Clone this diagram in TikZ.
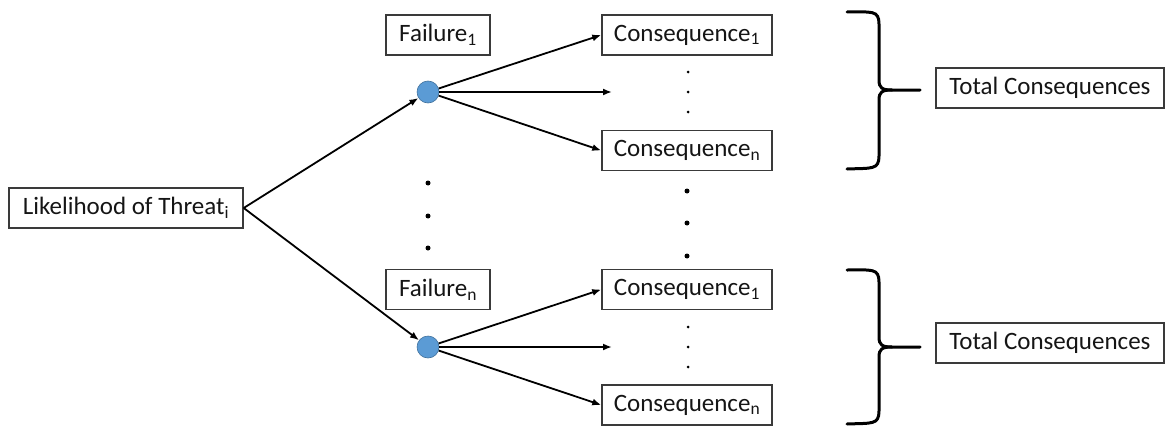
\documentclass[tikz,border=0pt]{standalone}
\usepackage{fontspec}
\setmainfont{Carlito}
\usetikzlibrary{arrows.meta}
\definecolor{boxgray}{HTML}{3A3A3A}
\definecolor{txt}{HTML}{151515}
\definecolor{dotblue}{HTML}{5B9BD5}
\definecolor{dotedge}{HTML}{41719C}
\begin{document}
\begin{tikzpicture}[x=1pt,y=-1pt,
 box/.style={draw=boxgray,line width=1.4pt,minimum height=40pt,inner sep=0pt,text=txt,font=\fontsize{25}{29}\selectfont},
 chance/.style={circle,fill=dotblue,draw=dotedge,line width=0.6pt,minimum size=22pt,inner sep=0pt},
 conn/.style={line width=1.8pt,-{Latex[length=9pt,width=7pt]}},
 bigdot/.style={circle,fill=black,minimum size=5pt,inner sep=0pt},
 smalldot/.style={circle,fill=black,minimum size=3pt,inner sep=0pt},
 brace/.style={line width=3pt,line cap=round}]
\useasboundingbox (0,0) rectangle (1166,428);
% boxes
\node[box,minimum width=234pt] (lik) at (126,208) {Likelihood of Threat\textsubscript{i}};
\node[box,minimum width=104pt] (f1) at (438,35) {Failure\textsubscript{1}};
\node[box,minimum width=104pt] (fn) at (438,289.5) {Failure\textsubscript{n}};
\node[chance] (c1) at (428,92) {};
\node[chance] (c2) at (428,347) {};
\node[box,minimum width=170pt] (q11) at (687,35) {Consequence\textsubscript{1}};
\node[box,minimum width=170pt] (q1n) at (687,150.5) {Consequence\textsubscript{n}};
\node[box,minimum width=170pt] (q21) at (687,289.5) {Consequence\textsubscript{1}};
\node[box,minimum width=170pt] (q2n) at (687,405) {Consequence\textsubscript{n}};
\node[box,minimum width=228pt] (t1) at (1050,88) {Total Consequences};
\node[box,minimum width=228pt] (t2) at (1050,343) {Total Consequences};
\coordinate (m1) at (612,92);
\coordinate (m2) at (612,347);
% connectors
\draw[conn] (lik.east) -- (c1);
\draw[conn] (lik.east) -- (c2);
\draw[conn] (c1) -- (q11.west);
\draw[conn] (c1) -- (m1);
\draw[conn] (c1) -- (q1n.west);
\draw[conn] (c2) -- (q21.west);
\draw[conn] (c2) -- (m2);
\draw[conn] (c2) -- (q2n.west);
% dots
\foreach \y [count=\i] in {183,216,248} \node[bigdot] (la\i) at (428,\y) {};
\foreach \y [count=\i] in {191,223,256} \node[bigdot] (ra\i) at (687,\y) {};
\foreach \y [count=\i] in {72,92,112} \node[smalldot] (sa\i) at (688,\y) {};
\foreach \y [count=\i] in {327,347,367} \node[smalldot] (sb\i) at (688,\y) {};
% braces
\draw[brace] (847,12) .. controls (872,12) and (879,10) .. (879,24) -- (879,80) .. controls (879,88) and (882,90) .. (892,90) -- (920,90);
\draw[brace] (892,90) .. controls (882,90) and (879,92) .. (879,100) -- (879,156) .. controls (879,170) and (872,168) .. (847,169);
\draw[brace] (847,270) .. controls (872,270) and (879,268) .. (879,282) -- (879,337) .. controls (879,345) and (882,347) .. (892,347) -- (920,347);
\draw[brace] (892,347) .. controls (882,347) and (879,349) .. (879,357) -- (879,411) .. controls (879,425) and (872,423) .. (847,424);
\end{tikzpicture}
\end{document}
